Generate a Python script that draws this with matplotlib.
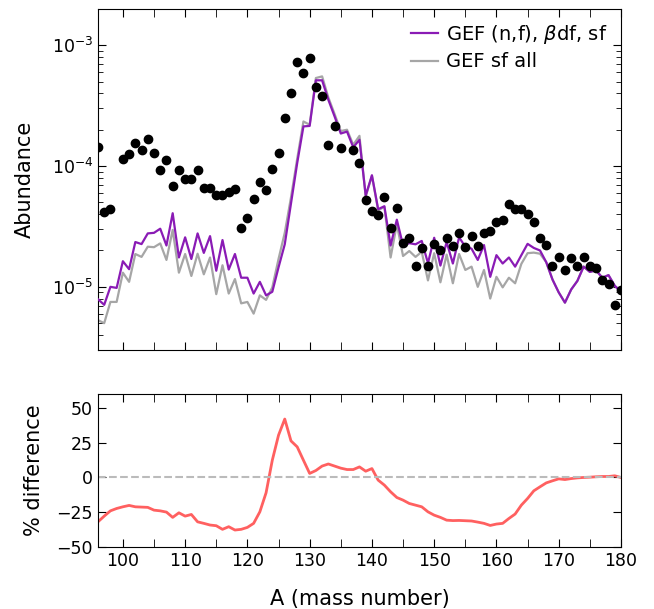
import numpy as np
import matplotlib
matplotlib.use("Agg")
import matplotlib.pyplot as plt
from matplotlib.ticker import MultipleLocator, LogLocator, NullFormatter

# mass numbers for the model curves
A = np.arange(96, 181)

# GEF (n,f), beta df, sf
gef_nf = [7.9e-6, 7.1e-6, 1.0e-5, 9.8e-6, 1.63e-5, 1.4e-5, 2.35e-5, 2.26e-5, 2.77e-5, 2.8e-5,
          3.03e-5, 2.2e-5, 4.07e-5, 1.75e-5, 2.57e-5, 1.7e-5, 2.77e-5, 1.91e-5, 2.63e-5, 1.36e-5,
          2.44e-5, 1.39e-5, 1.87e-5, 1.19e-5, 1.19e-5, 8.8e-6, 1.1e-5, 8.5e-6, 9.1e-6, 1.45e-5,
          2.25e-5, 4.9e-5, 1.06e-4, 2.13e-4, 2.15e-4, 5.13e-4, 5.13e-4, 3.54e-4, 2.58e-4, 1.86e-4,
          1.93e-4, 1.43e-4, 1.65e-4, 5.7e-5, 8.4e-5, 4.4e-5, 4.65e-5, 2.2e-5, 3.6e-5, 2.2e-5,
          2.3e-5, 2.25e-5, 2.4e-5, 1.57e-5, 2.55e-5, 1.5e-5, 2.35e-5, 1.56e-5, 2.57e-5, 2.15e-5,
          2.07e-5, 1.67e-5, 2.22e-5, 1.21e-5, 1.83e-5, 1.56e-5, 1.75e-5, 1.47e-5, 1.83e-5, 2.27e-5,
          2.1e-5, 2.0e-5, 1.6e-5, 1.15e-5, 9.0e-6, 7.4e-6, 9.5e-6, 1.12e-5, 1.47e-5, 1.33e-5,
          1.37e-5, 1.19e-5, 1.25e-5, 1.02e-5, 9.1e-6]

# GEF sf all
gef_sf = [5.3e-6, 5.0e-6, 7.5e-6, 7.5e-6, 1.31e-5, 1.1e-5, 1.87e-5, 1.77e-5, 2.15e-5, 2.13e-5,
          2.29e-5, 1.67e-5, 2.96e-5, 1.31e-5, 1.87e-5, 1.23e-5, 1.88e-5, 1.27e-5, 1.75e-5, 8.7e-6,
          1.51e-5, 8.8e-6, 1.16e-5, 7.3e-6, 7.5e-6, 6.0e-6, 8.5e-6, 7.8e-6, 9.9e-6, 1.7e-5,
          2.8e-5, 5.5e-5, 1.15e-4, 2.34e-4, 2.2e-4, 5.36e-4, 5.53e-4, 3.7e-4, 2.7e-4, 1.95e-4,
          2.0e-4, 1.5e-4, 1.78e-4, 5.6e-5, 8.3e-5, 4.3e-5, 4.6e-5, 1.75e-5, 3.3e-5, 1.8e-5,
          1.98e-5, 1.77e-5, 1.95e-5, 1.13e-5, 1.9e-5, 1.09e-5, 1.85e-5, 1.07e-5, 1.87e-5, 1.38e-5,
          1.47e-5, 1.0e-5, 1.38e-5, 8.0e-6, 1.21e-5, 9.9e-6, 1.19e-5, 1.07e-5, 1.55e-5, 1.9e-5,
          1.92e-5, 1.88e-5, 1.6e-5, 1.15e-5, 9.0e-6, 7.4e-6, 9.5e-6, 1.12e-5, 1.47e-5, 1.33e-5,
          1.37e-5, 1.19e-5, 1.25e-5, 1.02e-5, 9.1e-6]

# evaluated / measured abundances (black dots)
A_data = [96, 97, 98, 100, 101, 102, 103, 104, 105, 106, 107, 108, 109, 110, 111, 112, 113, 114,
          115, 116, 117, 118, 119, 120, 121, 122, 123, 124, 125, 126, 127, 128, 129, 130, 131, 132,
          133, 134, 135, 137, 138, 139, 140, 141, 142, 143, 144, 145, 146, 147, 148, 149, 150, 151,
          152, 153, 154, 155, 156, 157, 158, 159, 160, 161, 162, 163, 164, 165, 166, 167, 168, 169,
          170, 171, 172, 173, 174, 175, 176, 177, 178, 179, 180]
Y_data = [1.44e-4, 4.17e-5, 4.44e-5, 1.15e-4, 1.27e-4, 1.55e-4, 1.37e-4, 1.66e-4, 1.29e-4, 9.2e-5,
          1.13e-4, 6.9e-5, 9.3e-5, 7.8e-5, 7.8e-5, 9.3e-5, 6.6e-5, 6.6e-5, 5.8e-5, 5.8e-5,
          6.1e-5, 6.5e-5, 3.1e-5, 3.7e-5, 5.35e-5, 7.35e-5, 6.3e-5, 9.4e-5, 1.28e-4, 2.5e-4,
          4.05e-4, 7.3e-4, 5.9e-4, 7.8e-4, 4.5e-4, 3.8e-4, 1.5e-4, 2.13e-4, 1.42e-4, 1.35e-4,
          1.07e-4, 5.25e-5, 4.25e-5, 3.9e-5, 5.5e-5, 3.1e-5, 4.5e-5, 2.32e-5, 2.52e-5, 1.48e-5,
          2.08e-5, 1.48e-5, 2.25e-5, 2.0e-5, 2.52e-5, 2.18e-5, 2.8e-5, 2.13e-5, 2.62e-5, 2.19e-5,
          2.77e-5, 2.88e-5, 3.42e-5, 3.56e-5, 4.83e-5, 4.44e-5, 4.41e-5, 3.99e-5, 3.46e-5, 2.52e-5,
          2.23e-5, 1.49e-5, 1.76e-5, 1.38e-5, 1.72e-5, 1.48e-5, 1.76e-5, 1.49e-5, 1.44e-5, 1.15e-5,
          1.05e-5, 7.1e-6, 9.5e-6]

# % difference
pct_diff = [-31.9, -27.8, -24.0, -22.3, -21.1, -20.1, -21.1, -21.3, -21.5, -23.5,
            -24.0, -24.9, -28.7, -25.4, -27.8, -26.6, -31.9, -33.0, -34.2, -34.7,
            -37.3, -35.4, -37.8, -37.3, -35.9, -33.0, -24.7, -11.0, 12.4, 30.4,
            42.0, 26.3, 22.0, 12.4, 2.9, 5.0, 8.2, 9.7, 8.2, 6.7,
            5.7, 5.7, 7.6, 4.5, 6.4, -1.9, -5.5, -10.3, -14.4, -16.3,
            -18.7, -19.9, -21.1, -24.7, -27.1, -28.7, -30.7, -31.0, -30.9, -31.1,
            -31.3, -32.1, -33.0, -34.5, -33.5, -33.0, -29.5, -26.3, -19.9, -15.1,
            -9.6, -6.7, -3.9, -2.4, -1.0, -1.5, -0.8, -0.3, 0.0, 0.2,
            0.5, 0.7, 0.7, 1.2, 0.0]

plt.rcParams['xtick.direction'] = 'in'
plt.rcParams['ytick.direction'] = 'in'
plt.rcParams['xtick.top'] = True
plt.rcParams['ytick.right'] = True
plt.rcParams['font.size'] = 12

fig = plt.figure(figsize=(6.54, 6.09), dpi=100)
ax1 = fig.add_axes([0.1498, 0.4253, 0.7997, 0.56])
ax2 = fig.add_axes([0.1498, 0.1018, 0.7997, 0.2512])

ax1.plot(A, gef_nf, color='#8a1bb5', lw=1.6, label=r'GEF (n,f), $\beta$df, sf', zorder=3)
ax1.plot(A, gef_sf, color='#a6a6a6', lw=1.6, label='GEF sf all', zorder=2)
ax1.plot(A_data, Y_data, 'o', color='black', ms=6, zorder=4)
ax1.set_yscale('log')
ax1.set_xlim(96, 180)
ax1.set_ylim(3e-6, 2e-3)
ax1.set_ylabel('Abundance', fontsize=15, labelpad=12)
ax1.xaxis.set_major_locator(MultipleLocator(10))
ax1.xaxis.set_minor_locator(MultipleLocator(5))
ax1.set_xticklabels([])
ax1.yaxis.set_major_locator(LogLocator(base=10, numticks=10))
ax1.yaxis.set_minor_locator(LogLocator(base=10, subs=np.arange(2, 10), numticks=10))
ax1.yaxis.set_minor_formatter(NullFormatter())
ax1.tick_params(which='major', length=6, labelsize=12.5)
ax1.tick_params(which='minor', length=3.5)
ax1.tick_params(axis='x', which='minor', length=6)
ax1.legend(loc='upper right', frameon=False, fontsize=14, handlelength=1.4,
           handletextpad=0.4, labelspacing=0.35, borderaxespad=0.3)

ax2.plot(A, pct_diff, color='#ff6060', lw=2)
ax2.axhline(0, color='#bbbbbb', lw=1.5, ls='--')
ax2.set_xlim(96, 180)
ax2.set_ylim(-50, 60)
ax2.set_yticks([-50, -25, 0, 25, 50])
ax2.xaxis.set_major_locator(MultipleLocator(10))
ax2.xaxis.set_minor_locator(MultipleLocator(5))
ax2.tick_params(which='major', length=6, labelsize=12.5)
ax2.tick_params(axis='x', which='minor', length=6)
ax2.set_ylabel('% difference', fontsize=15, labelpad=9)
ax2.set_xlabel('A (mass number)', fontsize=15, labelpad=14)

plt.savefig('out.png', dpi=100)
